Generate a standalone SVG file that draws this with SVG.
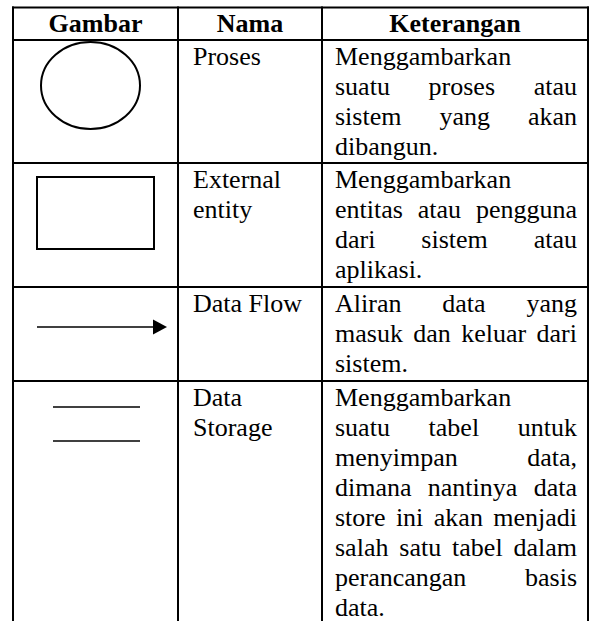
<svg xmlns="http://www.w3.org/2000/svg" width="590" height="621" viewBox="0 0 590 621">
  <style>
    .grid { stroke: #000; stroke-width: 2; fill: none; }
    .sym { stroke: #000; stroke-width: 2; fill: none; }
    .thin { stroke: #000; stroke-width: 1.4; fill: none; }
    text { font-family: "Liberation Serif", "Times New Roman", serif; font-size: 26px; fill: #000; }
    .head { font-weight: bold; text-anchor: middle; }
    .end { text-anchor: end; }
  </style>
  <rect width="590" height="621" fill="#fff"/>

  <!-- table grid -->
  <g id="grid" class="grid">
    <line x1="12" y1="7.5" x2="589" y2="7.5"/>
    <line x1="12" y1="40" x2="589" y2="40"/>
    <line x1="12" y1="163" x2="589" y2="163"/>
    <line x1="12" y1="287" x2="589" y2="287"/>
    <line x1="12" y1="381" x2="589" y2="381"/>
    <line x1="13" y1="6.5" x2="13" y2="621"/>
    <line x1="178" y1="6.5" x2="178" y2="621"/>
    <line x1="322" y1="6.5" x2="322" y2="621"/>
    <line x1="588" y1="6.5" x2="588" y2="621"/>
  </g>

  <!-- header row -->
  <g id="header">
    <text class="head" x="95.5" y="32">Gambar</text>
    <text class="head" x="250" y="32">Nama</text>
    <text class="head" x="455" y="32">Keterangan</text>
  </g>

  <!-- process -->
  <g id="row-proses">
    <ellipse class="sym" cx="90.5" cy="85.5" rx="49.5" ry="43.5"/>
    <text x="193" y="65">Proses</text>
    <text x="335" y="65">Menggambarkan</text>
    <text y="95"><tspan x="335">suatu</tspan><tspan x="428.6">proses</tspan><tspan x="577" class="end" text-anchor="end">atau</tspan></text>
    <text y="125"><tspan x="335">sistem</tspan><tspan x="439.4">yang</tspan><tspan x="577" text-anchor="end">akan</tspan></text>
    <text x="335" y="155">dibangun.</text>
  </g>

  <!-- external entity -->
  <g id="row-entity">
    <rect class="sym" x="37" y="177" width="117" height="72"/>
    <text x="193" y="188">External</text>
    <text x="193" y="218">entity</text>
    <text x="335" y="188">Menggambarkan</text>
    <text y="218"><tspan x="335">entitas</tspan><tspan x="417.7">atau</tspan><tspan x="577" text-anchor="end">pengguna</tspan></text>
    <text y="248"><tspan x="335">dari</tspan><tspan x="421.3">sistem</tspan><tspan x="577" text-anchor="end">atau</tspan></text>
    <text x="335" y="278">aplikasi.</text>
  </g>

  <!-- data flow -->
  <g id="row-flow">
    <line class="thin" x1="37" y1="327" x2="154" y2="327"/>
    <polygon points="153,319.5 167,327 153,334.5" fill="#000"/>
    <text x="193" y="312">Data Flow</text>
    <text y="312"><tspan x="335">Aliran</tspan><tspan x="442.3">data</tspan><tspan x="577" text-anchor="end">yang</tspan></text>
    <text y="342"><tspan x="335">masuk</tspan><tspan x="413.3">dan</tspan><tspan x="461.2">keluar</tspan><tspan x="577" text-anchor="end">dari</tspan></text>
    <text x="335" y="372">sistem.</text>
  </g>

  <!-- data storage -->
  <g id="row-storage">
    <line class="thin" x1="53" y1="407" x2="140" y2="407"/>
    <line class="thin" x1="53" y1="441" x2="140" y2="441"/>
    <text x="193" y="406">Data</text>
    <text x="193" y="436">Storage</text>
    <text x="335" y="406">Menggambarkan</text>
    <text y="436"><tspan x="335">suatu</tspan><tspan x="428.6">tabel</tspan><tspan x="577" text-anchor="end">untuk</tspan></text>
    <text y="466"><tspan x="335">menyimpan</tspan><tspan x="577" text-anchor="end">data,</tspan></text>
    <text y="496"><tspan x="335">dimana</tspan><tspan x="427.8">nantinya</tspan><tspan x="577" text-anchor="end">data</tspan></text>
    <text y="526"><tspan x="335">store</tspan><tspan x="395.9">ini</tspan><tspan x="433.8">akan</tspan><tspan x="577" text-anchor="end">menjadi</tspan></text>
    <text y="556"><tspan x="335">salah</tspan><tspan x="399.3">satu</tspan><tspan x="452.1">tabel</tspan><tspan x="577" text-anchor="end">dalam</tspan></text>
    <text y="586"><tspan x="335">perancangan</tspan><tspan x="577" text-anchor="end">basis</tspan></text>
    <text x="335" y="616">data.</text>
  </g>
</svg>
